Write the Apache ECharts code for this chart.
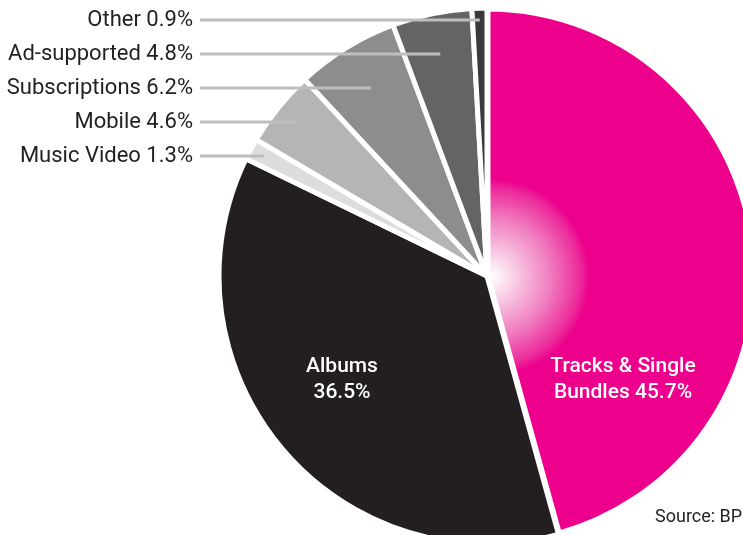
<!DOCTYPE html>
<html>
<head>
<meta charset="utf-8">
<script src="https://cdn.jsdelivr.net/npm/echarts@6/dist/echarts.min.js"></script>
<style>
  html, body { margin: 0; padding: 0; background: #ffffff; }
  #chart { width: 743px; height: 535px; }
</style>
</head>
<body>
<div id="chart"></div>
<script>
// Digital + physical music revenue split
const categories = ['Tracks & Single\nBundles', 'Albums', 'Music Video', 'Mobile', 'Subscriptions', 'Ad-supported', 'Other'];
const shares = [45.7, 36.5, 1.3, 4.6, 6.2, 4.8, 0.9];
const colors = ['#EC008C', '#231F20', '#DCDDDE', '#B3B5B7', '#8C8D8F', '#636466', '#3A3A3C'];
const sourceText = 'Source: BPI';

// pie geometry
const CX = 487, CY = 276, R = 268;
const total = shares.reduce((s, v) => s + v, 0);

// mid angle of slice i, clockwise from 12 o'clock
function midAngle(i) {
  let before = 0;
  for (let k = 0; k < i; k++) before += shares[k];
  return 2 * Math.PI * (before + shares[i] / 2) / total;
}

const chart = echarts.init(document.getElementById('chart'));

const glow = {
  type: 'radial', x: CX + 5, y: CY + 1, r: 98, global: true,
  colorStops: [
    { offset: 0, color: '#ffffff' },
    { offset: 0.25, color: '#f8c9e3' },
    { offset: 0.6, color: '#f07cbf' },
    { offset: 0.9, color: '#ec2a9b' },
    { offset: 1, color: '#EC008C' }
  ]
};

// slices
const sliceData = categories.map((name, i) => ({
  name: name,
  value: shares[i],
  itemStyle: i === 0
    ? { color: glow, borderWidth: 7 }
    : { color: colors[i] }
}));

// same slices, invisible, carrying labels and leader lines above the pie
const labelData = categories.map((name, i) => {
  const inner = i < 2;
  return {
    name: name,
    value: shares[i],
    label: inner ? {
      position: 'inside',
      formatter: i === 0 ? '{b} {c}%' : '{b}\n{c}%',
      color: '#ffffff',
      fontFamily: 'Roboto',
      fontWeight: 500,
      fontSize: 21,
      lineHeight: 26,
      align: 'center'
    } : {
      position: 'outside',
      formatter: '{b} {c}%',
      color: '#231F20',
      fontFamily: 'Roboto',
      fontSize: 22
    },
    labelLine: { show: !inner }
  };
});

chart.setOption({
  animation: false,
  title: {
    text: sourceText,
    left: 650, top: 503,
    textStyle: { fontFamily: 'Roboto', fontWeight: 'normal', fontSize: 18, color: '#231F20' }
  },
  series: [{
    type: 'pie',
    z: 2,
    center: [CX, CY],
    radius: [0, R],
    startAngle: 90,
    clockwise: true,
    silent: true,
    emphasis: { disabled: true },
    itemStyle: { borderColor: '#ffffff', borderWidth: 5, borderJoin: 'round' },
    label: { show: false },
    labelLine: { show: false },
    data: sliceData
  }, {
    type: 'pie',
    z: 3,
    center: [CX, CY],
    radius: [0, R],
    startAngle: 90,
    clockwise: true,
    silent: true,
    avoidLabelOverlap: false,
    emphasis: { disabled: true },
    itemStyle: { color: 'rgba(0,0,0,0)', borderWidth: 0 },
    labelLine: { lineStyle: { color: '#BCBEC0', width: 3 } },
    labelLayout: function (p) {
      const i = p.dataIndex;
      if (i === 0) return { x: 623, y: 380, align: 'center', verticalAlign: 'middle' };
      if (i === 1) return { x: 342, y: 380, align: 'center', verticalAlign: 'middle' };
      // stacked labels on the left, each with a horizontal leader running to its slice's bisector
      const y = 20 + (categories.length - 1 - i) * 34;
      const a = midAngle(i);
      const t = (y - CY) / -Math.cos(a);
      const xEnd = CX + t * Math.sin(a);
      return {
        x: 193, y: y, align: 'right', verticalAlign: 'middle',
        labelLinePoints: [[xEnd, y], [200, y], [200, y]]
      };
    },
    data: labelData
  }]
});
</script>
</body>
</html>
